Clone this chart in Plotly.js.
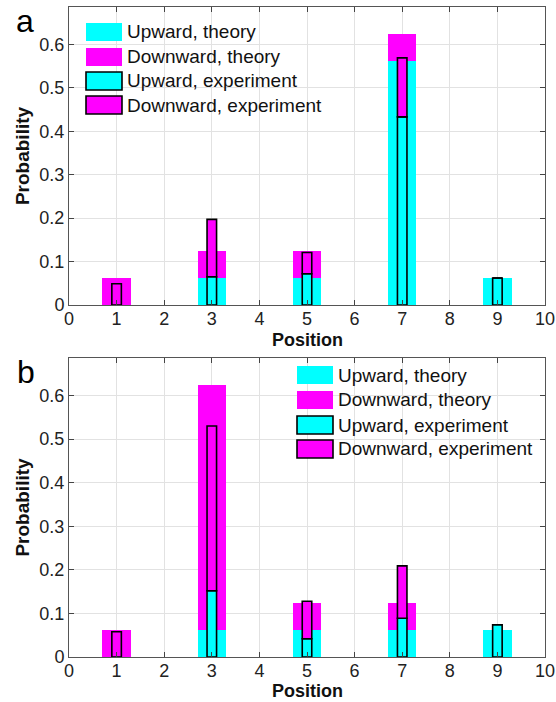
<!DOCTYPE html>
<html>
<head>
<meta charset="utf-8">
<script src="https://cdn.plot.ly/plotly-3.0.1.min.js"></script>
<style>html,body{margin:0;padding:0;background:#fff;}#chart{width:556px;height:702px;}</style>
</head>
<body>
<div id="chart"></div>
<script>
// ---- data ----
const positions = [1, 3, 5, 7, 9];
// panel a
const aUpTheory   = [0, 0.0625, 0.0625, 0.5625, 0.0625];
const aDownTheory = [0.0625, 0.0625, 0.0625, 0.0625, 0];
const aUpExp      = [0, 0.065, 0.072, 0.433, 0.062];
const aDownExp    = [0.049, 0.132, 0.049, 0.136, 0];
// panel b
const bUpTheory   = [0, 0.0625, 0.0625, 0.0625, 0.0625];
const bDownTheory = [0.0625, 0.5625, 0.0625, 0.0625, 0];
const bUpExp      = [0, 0.152, 0.042, 0.089, 0.074];
const bDownExp    = [0.058, 0.378, 0.086, 0.120, 0];
const xTicks = [0,1,2,3,4,5,6,7,8,9,10];
const yTicks = [0, 0.1, 0.2, 0.3, 0.4, 0.5, 0.6];
const legendLabels = ["Upward, theory", "Downward, theory", "Upward, experiment", "Downward, experiment"];
const xTitle = "Position";
const yTitle = "Probability";

const CYAN = "#00FFFF", MAG = "#FF00FF";
const FONT = "Liberation Sans, Arial, sans-serif";

function panelTraces(up, down, upE, downE, xa, ya) {
  const common = {type: "bar", x: positions, xaxis: xa, yaxis: ya, showlegend: false, hoverinfo: "skip"};
  return [
    Object.assign({}, common, {y: up, base: up.map(() => 0), width: 0.6, marker: {color: CYAN, line: {width: 0}}}),
    Object.assign({}, common, {y: down, base: up, width: 0.6, marker: {color: MAG, line: {width: 0}}}),
    Object.assign({}, common, {y: upE, base: upE.map(() => 0), width: 0.2, marker: {color: CYAN, line: {width: 1.6, color: "#000"}}}),
    Object.assign({}, common, {y: downE, base: upE, width: 0.2, marker: {color: MAG, line: {width: 1.6, color: "#000"}}})
  ];
}

const data = [].concat(
  panelTraces(aUpTheory, aDownTheory, aUpExp, aDownExp, "x", "y"),
  panelTraces(bUpTheory, bDownTheory, bUpExp, bDownExp, "x2", "y2")
);

// pixel -> paper helpers
const L = 69, R = 545, T = 7, B = 657;
const px = v => (v - L) / (R - L);
const py = v => (B - v) / (B - T);

function axisX(anchor) {
  return {
    anchor: anchor, range: [0, 10], tickvals: xTicks, ticktext: xTicks.map(String),
    ticks: "inside", ticklen: 5, tickcolor: "#444", mirror: "ticks",
    showline: true, linecolor: "#555", linewidth: 1,
    showgrid: true, gridcolor: "#e2e2e2", gridwidth: 1, zeroline: false,
    tickfont: {family: FONT, size: 18, color: "#222"},
    ticklabelstandoff: -3,
    fixedrange: true
  };
}
function axisY(anchor, domain) {
  return {
    anchor: anchor, domain: domain, range: [0, 0.686], tickvals: yTicks, ticktext: yTicks.map(v => v === 0 ? "0" : v.toFixed(1)),
    ticks: "inside", ticklen: 5, tickcolor: "#444", mirror: "ticks",
    showline: true, linecolor: "#555", linewidth: 1,
    showgrid: true, gridcolor: "#e2e2e2", gridwidth: 1, zeroline: false,
    tickfont: {family: FONT, size: 18, color: "#222"},
    title: {text: "<b>" + yTitle + "</b>", font: {family: FONT, size: 19, color: "#111"}, standoff: 4},
    fixedrange: true
  };
}

// custom legend (large MATLAB-style swatches)
const shapes = [];
const annotations = [];
function addLegend(x0, rowsY) {
  const fills = [CYAN, MAG, CYAN, MAG];
  const edges = [false, false, true, true];
  rowsY.forEach((cy, i) => {
    shapes.push({type: "rect", xref: "paper", yref: "paper",
      x0: px(x0), x1: px(x0 + 36), y0: py(cy + 9), y1: py(cy - 9),
      fillcolor: fills[i], line: edges[i] ? {color: "#000", width: 1.6} : {width: 0}});
    annotations.push({xref: "paper", yref: "paper", x: px(x0 + 39), y: py(cy),
      xanchor: "left", yanchor: "middle", showarrow: false, text: legendLabels[i],
      font: {family: FONT, size: 19, color: "#111"}});
  });
}
addLegend(86, [32, 57, 81, 105]);
addLegend(297, [375, 400, 425, 449]);

// x-axis titles placed explicitly
[340, 691].forEach(cy => {
  annotations.push({xref: "paper", yref: "paper", x: 0.5, y: py(cy), xanchor: "center", yanchor: "middle",
    height: 18, borderpad: 0, showarrow: false, text: "<b>" + xTitle + "</b>",
    font: {family: FONT, size: 18, color: "#111"}});
});

annotations.push({xref: "paper", yref: "paper", x: px(25), y: py(21), xanchor: "center", yanchor: "middle",
  showarrow: false, text: "a", font: {family: FONT, size: 32, color: "#000"}});
annotations.push({xref: "paper", yref: "paper", x: px(26), y: py(372), xanchor: "center", yanchor: "middle",
  showarrow: false, text: "b", font: {family: FONT, size: 32, color: "#000"}});

const layout = {
  width: 556, height: 702,
  margin: {l: L, r: 556 - R, t: T, b: 702 - B, pad: 0},
  paper_bgcolor: "#fff", plot_bgcolor: "#fff",
  barmode: "overlay", bargap: 0,
  showlegend: false,
  xaxis: axisX("y"),
  yaxis: axisY("x", [py(305), 1]),
  xaxis2: axisX("y2"),
  yaxis2: axisY("x2", [0, py(358)]),
  shapes: shapes,
  annotations: annotations,
  font: {family: FONT}
};

Plotly.newPlot("chart", data, layout, {staticPlot: true, displayModeBar: false});
</script>
</body>
</html>
